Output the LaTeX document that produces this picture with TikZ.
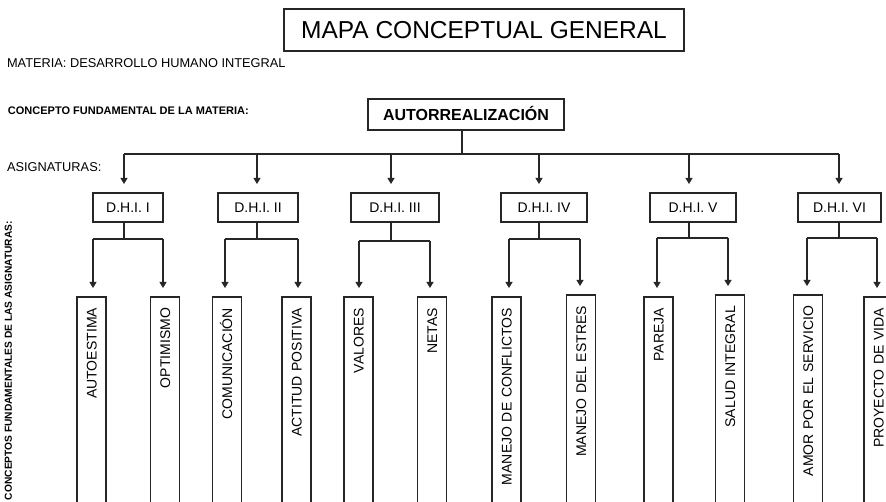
\documentclass[tikz,border=0pt]{standalone}
\usepackage{fontspec}
\setmainfont{Liberation Sans}
\usetikzlibrary{arrows.meta}
\begin{document}
\begin{tikzpicture}[x=1pt,y=-1pt,
  every node/.style={inner sep=0pt, outer sep=0pt},
  ln/.style={line width=1.1pt, draw=black!85},
  arr/.style={ln, -{Triangle[width=7pt,length=6pt]}, shorten >=9pt},
  dhibox/.style={draw=black!85, line width=1.1pt, minimum height=29pt,
    font=\fontsize{14}{16}\selectfont, text height=10pt, text depth=0pt},
  leafbox/.style={draw=black!85, line width=1.1pt, rotate=90, anchor=east,
    minimum height=29pt, text width=210pt, align=right, inner xsep=11pt,
    font=\fontsize{14}{16}\selectfont, text height=10pt, text depth=0pt}
]
\useasboundingbox (0,0) rectangle (886,502);
\clip (0,0) rectangle (886,502);

\node[draw=black!85, line width=1.2pt, minimum width=400pt, minimum height=42pt,
  font=\fontsize{24.5}{28}\selectfont, text height=17.5pt, text depth=0pt]
  (title) at (484,30) {MAPA CONCEPTUAL GENERAL};

\node[anchor=base west, font=\fontsize{12.8}{15}\selectfont] (materia) at (7,68)
  {MATERIA: DESARROLLO HUMANO INTEGRAL};
\node[anchor=base west, font=\bfseries\fontsize{11}{13}\selectfont] (cfm) at (8,115)
  {CONCEPTO FUNDAMENTAL DE LA MATERIA:};
\node[anchor=base west, font=\fontsize{12.8}{15}\selectfont] (asig) at (7,172)
  {ASIGNATURAS:};
\node[rotate=90, anchor=base west, font=\bfseries\fontsize{10.2}{12}\selectfont] (cfa) at (12,500)
  {CONCEPTOS FUNDAMENTALES DE LAS ASIGNATURAS:};

\node[draw=black!85, line width=1.1pt, minimum width=196pt, minimum height=31pt,
  font=\bfseries\fontsize{16}{18}\selectfont, text height=11.5pt, text depth=0pt]
  (auto) at (466,114.5) {AUTORREALIZACIÓN};

\coordinate (autoj) at (462,154);
\draw[ln] (autoj |- auto.south) -- (autoj);

\foreach \i/\dx/\bc/\bw/\lab/\sy/\lx/\rx/\ax/\at/\alab/\bxx/\bt/\blab in {
  1/124/128/70/{D.H.I. I}/239/93/163/91.5/297/{AUTOESTIMA}/165/297/{OPTIMISMO},
  2/257/258/80/{D.H.I. II}/239/225/298/227/297/{COMUNICACIÓN}/296.5/297/{ACTITUD POSITIVA},
  3/391/395/88/{D.H.I. III}/241/359/430/358.5/297/{VALORES}/432/297/{NETAS},
  4/539/544/86/{D.H.I. IV}/239/509/580/506.5/297/{MANEJO DE CONFLICTOS}/581/295/{MANEJO DEL ESTRES},
  5/689/693/86/{D.H.I. V}/238/657/728/658.5/297/{PAREJA}/730/295/{SALUD INTEGRAL},
  6/839/839.5/83/{D.H.I. VI}/238/807/877/808/295/{AMOR POR EL SERVICIO}/878.5/297/{PROYECTO DE VIDA}}
{
  \coordinate (b\i) at (\dx,154);
  \node[dhibox, minimum width=\bw pt] (d\i) at (\bc,207.5) {\lab};
  \coordinate (j\i) at (\dx,\sy);
  \coordinate (l\i) at (\lx,\sy);
  \coordinate (r\i) at (\rx,\sy);
  \node[leafbox] (la\i) at (\ax,\at) {\alab};
  \node[leafbox] (lb\i) at (\bxx,\bt) {\blab};
  \draw[arr] (b\i) -- (b\i |- d\i.north);
  \draw[ln] (j\i |- d\i.south) -- (j\i);
  \draw[ln] (l\i) -- (r\i);
  \draw[arr] (l\i) -- (l\i |- la\i.east);
  \draw[arr] (r\i) -- (r\i |- lb\i.east);
}
\draw[ln] (b1) -- (b6);
\end{tikzpicture}
\end{document}
